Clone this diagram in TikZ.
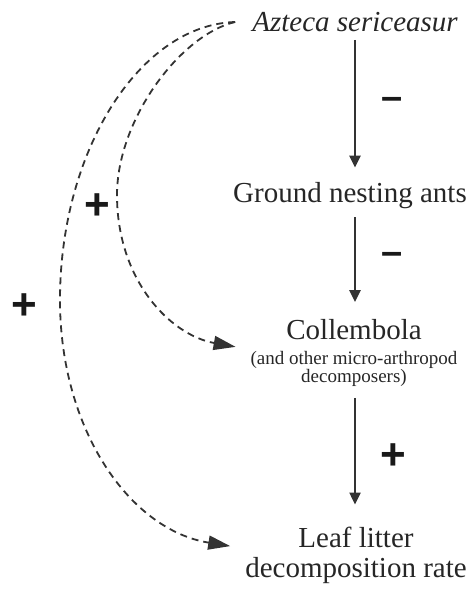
\documentclass[tikz,border=0pt]{standalone}
\usepackage{fontspec}
\setmainfont{Liberation Serif}
\newfontfamily\signfont{Liberation Sans}
\usetikzlibrary{arrows.meta, positioning, calc}
\tikzset{
  %% Taxon / response label
  taxon/.style={
    font=\fontsize{29}{30}\selectfont, align=center,
    inner sep=3pt, text=black!85
  },
  %% Sign of an effect
  sign/.style={
    font=\signfont\bfseries\fontsize{#1}{#1}\selectfont,
    inner sep=0pt, text=black!90
  },
  sign/.default=44,
  %% Direct effect
  arr/.style={-{Triangle[length=12pt,width=11pt]},
              draw=black!80, line width=2.4pt},
  %% Indirect effect
  darr/.style={-{Triangle[length=22pt,width=14pt]},
               draw=black!80, line width=1.8pt,
               dash pattern=on 7pt off 5pt},
}

\begin{document}
\begin{tikzpicture}[x=1pt, y=-1pt]
  \useasboundingbox (0,0) rectangle (470,593);

  %% ---- Food chain ----
  \node[taxon, font=\fontsize{29}{30}\selectfont\itshape, inner xsep=17pt]
       (azteca) at (355,22) {Azteca sericeasur};
  \node[taxon] (ants) at (350,196) {Ground nesting ants};
  \node[taxon, font=\fontsize{19}{17}\selectfont] (colle) at (354,353)
       {{\fontsize{29}{30}\selectfont Collembola}\\[8pt]
        (and other micro-arthropod\\ decomposers)};
  \node[taxon] (leaf) at (356,555) {Leaf litter\\decomposition rate};

  %% direct effects
  \draw[arr, shorten <=5pt, shorten >=12pt]
       (azteca.south) -- (azteca.south |- ants.north);
  \draw[arr, shorten <=5pt, shorten >=14pt]
       (azteca.south |- ants.south) -- (azteca.south |- colle.north);
  \draw[arr, shorten <=8pt, shorten >=19pt]
       (azteca.south |- colle.south) -- (azteca.south |- leaf.north);

  \node[sign=38] (m1) at (392,103) {–};
  \node[sign=38] (m2) at (392,258) {–};
  \node[sign] (p3) at (393,457) {+};

  %% ---- Indirect effects ----
  \draw[darr, shorten >=12pt] (azteca.west)
       .. controls (180,35) and (117,120) .. (117,195)
       .. controls (117,280) and (170,335) .. ([yshift=4pt]colle.west);
  \draw[darr, shorten >=12pt] (azteca.west)
       .. controls (140,25) and (60,150) .. (60,300)
       .. controls (60,430) and (130,530) .. ([yshift=7pt]leaf.west);

  \node[sign] (p2) at (97,207) {+};
  \node[sign] (p1) at (24,307) {+};

\end{tikzpicture}
\end{document}
